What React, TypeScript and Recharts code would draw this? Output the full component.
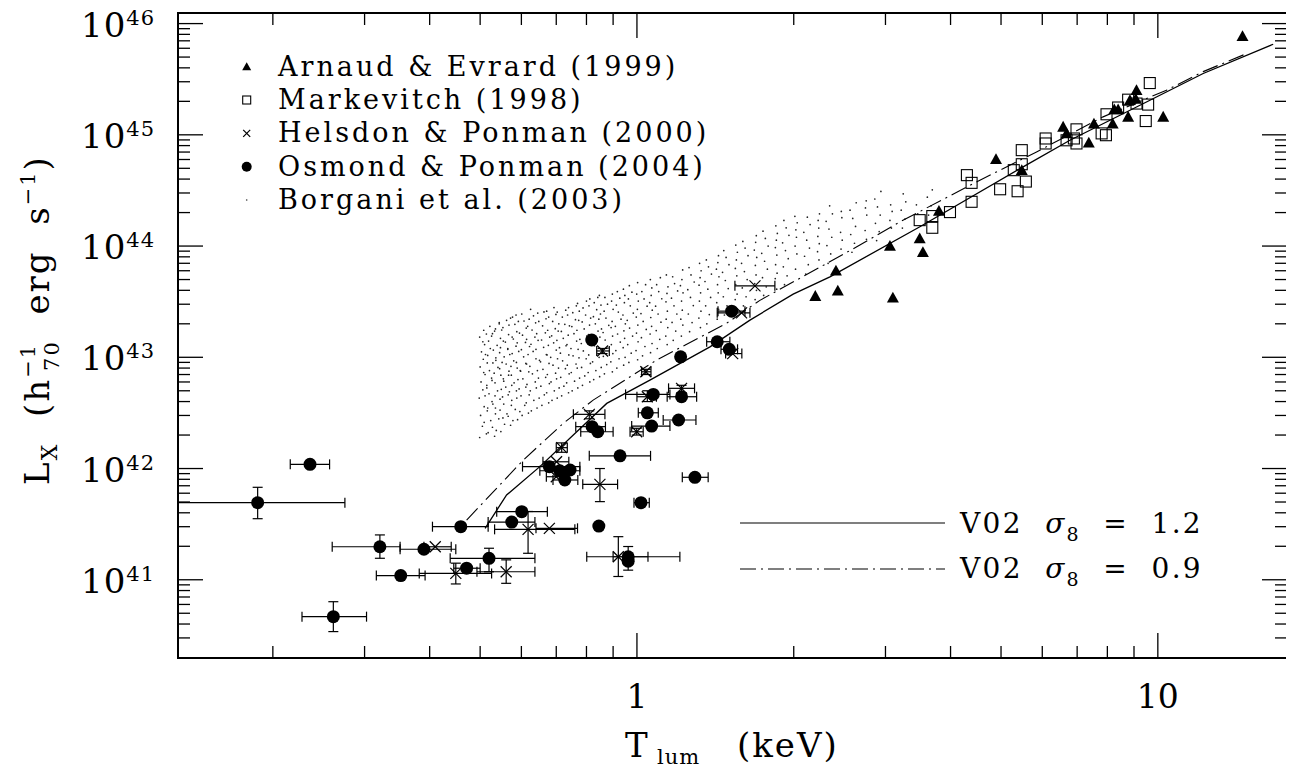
import React from 'react';
import { ScatterChart, Scatter, XAxis, YAxis, ErrorBar } from 'recharts';

// ---------- layout constants (page pixels; the wrapper cancels the body margin) ----------
const W = 1294;
const H = 770;
const PL = 178;
const PR = 1287;
const PT = 13;
const PB = 658;
const FONT = '"DejaVu Serif", "Liberation Serif", serif';

// ---------- axes ----------
const xDomain = [0.1315, 17.7];
const yDomain = [1.98e40, 1.245e46];
const xTicks = [0.2, 0.3, 0.4, 0.5, 0.6, 0.7, 0.8, 0.9, 1, 2, 3, 4, 5, 6, 7, 8, 9, 10];
const xMajorLabels: Record<string, string> = { '1': '1', '10': '10' };
const yTicks = [
  3e40, 4e40, 5e40, 6e40, 7e40, 8e40, 9e40,
  1e41, 2e41, 3e41, 4e41, 5e41, 6e41, 7e41, 8e41, 9e41,
  1e42, 2e42, 3e42, 4e42, 5e42, 6e42, 7e42, 8e42, 9e42,
  1e43, 2e43, 3e43, 4e43, 5e43, 6e43, 7e43, 8e43, 9e43,
  1e44, 2e44, 3e44, 4e44, 5e44, 6e44, 7e44, 8e44, 9e44,
  1e45, 2e45, 3e45, 4e45, 5e45, 6e45, 7e45, 8e45, 9e45,
  1e46,
];

// ---------- Arnaud & Evrard (1999) ----------
const arnaudT = [2.20, 2.43, 2.41, 3.10, 3.06, 3.49, 3.54, 3.80, 4.89, 5.48, 6.58, 6.68, 7.37, 7.54, 8.19, 8.25, 8.39, 8.77, 8.84, 9.10, 9.07, 10.24, 14.54];
const arnaudL = [3.55e43, 3.96e43, 6.0e43, 3.43e43, 1.0e44, 1.17e44, 8.8e43, 2.07e44, 6.04e44, 4.81e44, 1.18e45, 1.03e45, 8.5e44, 1.26e45, 1.26e45, 1.69e45, 1.69e45, 1.45e45, 2.05e45, 2.52e45, 2.10e45, 1.45e45, 7.69e45];

// ---------- Markevitch (1998) ----------
const markT = [3.49, 3.69, 3.69, 3.99, 4.30, 4.39, 4.39, 4.98, 5.38, 5.58, 5.29, 5.48, 5.48, 6.09, 6.09, 6.98, 6.68, 6.90, 6.98, 7.80, 7.95, 7.97, 8.39, 8.77, 9.10, 9.58, 9.65, 9.48];
const markL = [1.71e44, 1.86e44, 1.46e44, 2.02e44, 4.34e44, 3.70e44, 2.50e44, 3.24e44, 3.11e44, 3.80e44, 4.81e44, 5.44e44, 7.28e44, 9.27e44, 8.36e44, 1.12e45, 8.93e44, 9.27e44, 8.36e44, 1.03e45, 9.92e44, 1.53e45, 1.76e45, 2.07e45, 1.91e45, 1.87e45, 2.92e45, 1.33e45];

// ---------- Helsdon & Ponman (2000) ----------
const hpT = [0.410, 0.449, 0.561, 0.618, 0.679, 0.701, 0.700, 0.717, 0.810, 0.849, 0.921, 0.999, 1.047, 1.218, 1.040, 0.859, 1.527, 1.588, 1.685];
const hpL = [1.98e41, 1.14e41, 1.18e41, 2.84e41, 2.90e41, 1.15e42, 8.44e41, 1.54e42, 3.07e42, 7.21e41, 1.61e41, 2.14e42, 4.42e42, 5.26e42, 7.41e42, 1.14e43, 1.08e43, 2.51e43, 4.39e43];
const hpTlo = [0.390, 0.382, 0.493, 0.533, 0.640, 0.660, 0.670, 0.700, 0.755, 0.787, 0.801, 0.970, 1.000, 1.150, 1.021, 0.837, 1.480, 1.426, 1.542];
const hpThi = [0.440, 0.526, 0.637, 0.760, 0.769, 0.740, 0.730, 0.735, 0.868, 0.918, 1.209, 1.028, 1.090, 1.290, 1.064, 0.885, 1.590, 1.648, 1.840];
const hpLlo = [null, 9.17e40, 9.29e40, 1.73e41, null, null, null, 1.40e42, 2.80e42, 5.04e41, 1.07e41, 2.00e42, 4.00e42, 4.80e42, 7.00e42, 1.08e43, null, null, null];
const hpLhi = [null, 1.41e41, 1.51e41, 4.11e41, null, null, null, 1.70e42, 3.30e42, 1.00e42, 2.44e41, 2.30e42, 5.00e42, 5.60e42, 7.80e42, 1.20e43, null, null, null];

// ---------- Osmond & Ponman (2004) ----------
const opT = [0.187, 0.2357, 0.2613, 0.321, 0.390, 0.352, 0.459, 0.601, 0.575, 0.520, 0.471, 0.679, 0.711, 0.744, 0.727, 0.819, 0.820, 0.841, 0.928, 0.845, 1.018, 0.962, 0.962, 1.075, 1.218, 1.047, 1.067, 1.202, 1.292, 1.213, 1.426, 1.504, 1.520];
const opL = [4.93e41, 1.09e42, 4.66e40, 1.98e41, 1.88e41, 1.09e41, 3.00e41, 4.09e41, 3.30e41, 1.56e41, 1.27e41, 1.04e42, 9.55e41, 9.70e41, 7.89e41, 1.43e43, 2.38e42, 2.14e42, 1.30e42, 3.04e41, 4.93e41, 1.61e41, 1.47e41, 4.64e42, 4.42e42, 3.17e42, 2.41e42, 2.73e42, 8.34e41, 1.01e43, 1.38e43, 1.18e43, 2.60e43];
const opTlo = [0.1315, 0.216, 0.2275, 0.260, 0.351, 0.316, 0.405, 0.538, 0.518, 0.438, 0.445, 0.603, 0.651, null, 0.690, null, 0.763, 0.780, 0.810, null, 0.987, 0.900, null, 0.951, 1.143, 1.006, 0.977, 1.123, 1.222, null, 1.361, 1.450, 1.431];
const opThi = [0.275, 0.257, 0.3026, 0.351, 0.449, 0.392, 0.518, 0.673, 0.637, 0.637, 0.500, 0.777, 0.777, null, 0.770, null, 0.870, 0.900, 1.062, null, 1.056, 1.050, null, 1.157, 1.302, 1.099, 1.157, 1.298, 1.370, null, 1.508, 1.560, 1.612];
const opLlo = [3.54e41, null, 3.42e40, 1.56e41, null, null, null, null, null, 1.18e41, null, null, null, null, null, null, null, null, null, null, null, 1.22e41, null, null, null, null, null, null, null, null, null, null, null];
const opLhi = [6.78e41, null, 6.35e40, 2.53e41, null, null, null, null, null, 1.92e41, null, null, null, null, null, null, null, null, null, null, null, 1.99e41, null, null, null, null, null, null, null, null, null, null, null];

// ---------- Borgani et al. (2003) simulated clusters ----------
const borgani: [number, number][] = [
  [0.499,1.9e42],[0.505,2.4e42],[0.501,3.0e42],[0.509,3.6e42],[0.498,4.3e42],[0.506,5.1e42],[0.502,6.0e42],[0.511,7.0e42],[0.500,8.2e42],[0.507,9.6e42],[0.503,1.12e43],[0.510,1.3e43],[0.499,1.52e43],[0.508,1.75e43],
  [0.518,2.1e42],[0.524,2.7e42],[0.516,3.3e42],[0.527,4.0e42],[0.520,4.7e42],[0.515,5.6e42],[0.526,6.5e42],[0.521,7.6e42],[0.529,8.9e42],[0.517,1.04e43],[0.523,1.2e43],[0.519,1.4e43],[0.528,1.63e43],[0.522,1.9e43],
  [0.537,2.2e42],[0.543,2.8e42],[0.535,3.5e42],[0.546,4.2e42],[0.540,5.0e42],[0.534,5.9e42],[0.548,6.9e42],[0.541,8.1e42],[0.536,9.4e42],[0.545,1.1e43],[0.539,1.28e43],[0.547,1.48e43],[0.533,1.72e43],[0.544,2.0e43],
  [0.557,2.5e42],[0.563,3.1e42],[0.555,3.8e42],[0.566,4.6e42],[0.560,5.4e42],[0.554,6.4e42],[0.568,7.5e42],[0.561,8.7e42],[0.556,1.01e43],[0.565,1.18e43],[0.559,1.37e43],[0.567,1.6e43],[0.553,1.85e43],[0.562,2.15e43],
  [0.578,2.7e42],[0.584,3.4e42],[0.575,4.1e42],[0.587,5.0e42],[0.581,5.9e42],[0.574,6.9e42],[0.589,8.0e42],[0.580,9.3e42],[0.576,1.08e43],[0.586,1.26e43],[0.579,1.46e43],[0.588,1.7e43],[0.583,1.98e43],[0.577,2.3e43],
  [0.602,3.0e42],[0.609,3.7e42],[0.599,4.5e42],[0.612,5.4e42],[0.604,6.4e42],[0.598,7.5e42],[0.614,8.7e42],[0.606,1.01e43],[0.600,1.17e43],[0.611,1.36e43],[0.603,1.58e43],[0.613,1.83e43],[0.607,2.12e43],[0.601,2.45e43],
  [0.627,3.3e42],[0.634,4.1e42],[0.624,5.0e42],[0.638,6.0e42],[0.630,7.1e42],[0.623,8.3e42],[0.640,9.7e42],[0.632,1.13e43],[0.626,1.31e43],[0.637,1.52e43],[0.629,1.76e43],[0.639,2.04e43],[0.633,2.36e43],[0.625,2.7e43],
  [0.657,3.7e42],[0.664,4.6e42],[0.654,5.5e42],[0.668,6.6e42],[0.660,7.8e42],[0.653,9.1e42],[0.670,1.06e43],[0.662,1.23e43],[0.656,1.43e43],[0.667,1.66e43],[0.659,1.92e43],[0.669,2.22e43],[0.663,2.56e43],
  [0.687,4.1e42],[0.694,5.0e42],[0.684,6.0e42],[0.698,7.2e42],[0.690,8.5e42],[0.683,1.0e43],[0.700,1.16e43],[0.692,1.35e43],[0.686,1.56e43],[0.697,1.81e43],[0.689,2.1e43],[0.699,2.43e43],[0.693,2.8e43],
  [0.717,4.5e42],[0.724,5.5e42],[0.714,6.6e42],[0.729,7.9e42],[0.720,9.3e42],[0.713,1.09e43],[0.731,1.27e43],[0.722,1.48e43],[0.716,1.71e43],[0.727,1.98e43],[0.719,2.3e43],[0.730,2.65e43],
  [0.751,5.0e42],[0.759,6.1e42],[0.748,7.3e42],[0.764,8.7e42],[0.754,1.03e43],[0.747,1.2e43],[0.766,1.4e43],[0.757,1.63e43],[0.750,1.89e43],[0.762,2.18e43],[0.753,2.52e43],[0.765,2.9e43],
  [0.786,5.6e42],[0.794,6.8e42],[0.783,8.1e42],[0.799,9.7e42],[0.789,1.14e43],[0.782,1.33e43],[0.801,1.55e43],[0.792,1.8e43],[0.785,2.08e43],[0.797,2.4e43],[0.788,2.78e43],[0.800,3.2e43],
  [0.826,6.3e42],[0.834,7.6e42],[0.822,9.1e42],[0.839,1.08e43],[0.829,1.27e43],[0.821,1.48e43],[0.842,1.72e43],[0.832,2.0e43],[0.825,2.32e43],[0.837,2.68e43],[0.828,3.1e43],[0.841,3.45e43],
  [0.866,7.1e42],[0.875,8.6e42],[0.862,1.02e43],[0.880,1.21e43],[0.869,1.43e43],[0.861,1.67e43],[0.883,1.94e43],[0.872,2.25e43],[0.865,2.6e43],[0.878,3.0e43],[0.868,3.45e43],
  [0.915,8.0e42],[0.924,9.7e42],[0.911,1.15e43],[0.929,1.37e43],[0.918,1.62e43],[0.909,1.9e43],[0.932,2.2e43],[0.921,2.55e43],[0.913,2.95e43],[0.927,3.4e43],[0.917,3.9e43],
  [0.965,9.0e42],[0.975,1.09e43],[0.960,1.3e43],[0.981,1.55e43],[0.968,1.83e43],[0.958,2.15e43],[0.984,2.5e43],[0.971,2.9e43],[0.963,3.35e43],[0.978,3.85e43],[0.967,4.4e43],
  [1.025,1.03e43],[1.036,1.25e43],[1.020,1.5e43],[1.042,1.78e43],[1.028,2.1e43],[1.018,2.47e43],[1.046,2.88e43],[1.032,3.35e43],[1.022,3.9e43],[1.039,4.5e43],
  [1.094,1.2e43],[1.106,1.45e43],[1.089,1.74e43],[1.112,2.07e43],[1.098,2.45e43],[1.086,2.88e43],[1.116,3.36e43],[1.101,3.9e43],[1.091,4.5e43],[1.109,5.2e43],
  [1.174,1.42e43],[1.187,1.72e43],[1.168,2.06e43],[1.193,2.45e43],[1.178,2.9e43],[1.165,3.4e43],[1.197,3.95e43],[1.181,4.6e43],[1.171,5.3e43],
  [1.262,1.7e43],[1.276,2.05e43],[1.255,2.45e43],[1.283,2.92e43],[1.267,3.45e43],[1.252,4.05e43],[1.288,4.75e43],[1.270,5.5e43],[1.259,6.4e43],
  [1.362,2.0e43],[1.377,2.42e43],[1.355,2.9e43],[1.385,3.45e43],[1.368,4.1e43],[1.351,4.8e43],[1.390,5.6e43],[1.372,6.5e43],[1.359,7.5e43],
  [1.472,2.4e43],[1.489,2.9e43],[1.465,3.5e43],[1.497,4.15e43],[1.478,4.9e43],[1.460,5.8e43],[1.502,6.8e43],[1.483,7.9e43],[1.468,9.1e43],
  [1.601,2.9e43],[1.620,3.5e43],[1.593,4.2e43],[1.628,5.0e43],[1.608,5.9e43],[1.588,7.0e43],[1.634,8.2e43],[1.613,9.6e43],[1.597,1.1e44],
  [1.751,3.6e43],[1.771,4.3e43],[1.742,5.2e43],[1.780,6.2e43],[1.758,7.3e43],[1.736,8.6e43],[1.786,1.0e44],[1.764,1.17e44],[1.746,1.36e44],
  [1.920,4.5e43],[1.942,5.4e43],[1.910,6.5e43],[1.952,7.7e43],[1.928,9.1e43],[1.904,1.07e44],[1.958,1.25e44],[1.934,1.46e44],[1.915,1.7e44],
  [2.109,5.6e43],[2.133,6.8e43],[2.098,8.1e43],[2.144,9.6e43],[2.118,1.13e44],[2.091,1.33e44],[2.150,1.56e44],[2.124,1.82e44],
  [2.328,7.0e43],[2.355,8.5e43],[2.316,1.01e44],[2.366,1.2e44],[2.337,1.42e44],[2.308,1.67e44],[2.373,1.95e44],[2.344,2.3e44],
  [2.587,8.8e43],[2.616,1.06e44],[2.573,1.27e44],[2.628,1.5e44],[2.596,1.77e44],[2.565,2.1e44],[2.636,2.45e44],
  [2.885,1.12e44],[2.918,1.35e44],[2.870,1.6e44],[2.931,1.9e44],[2.896,2.25e44],[2.862,2.65e44],[2.940,3.1e44],
  [3.233,1.45e44],[3.270,1.75e44],[3.216,2.1e44],[3.282,2.5e44],[3.245,2.95e44],
  [3.63,1.9e44],[3.67,2.3e44],[3.61,2.75e44],[3.69,3.2e44],
  // interleaved, irregular second pass over the cloud
  [0.514,2.05e42],[0.509,2.6e42],[0.517,3.5e42],[0.511,4.5e42],[0.515,5.3e42],[0.508,7.3e42],[0.516,8.9e42],[0.512,1.06e43],[0.506,1.38e43],[0.514,1.62e43],
  [0.533,1.95e42],[0.528,2.35e42],[0.535,3.1e42],[0.529,3.8e42],[0.534,4.5e42],[0.527,6.2e42],[0.532,7.2e42],[0.536,9.9e42],[0.530,1.16e43],[0.526,1.55e43],[0.535,1.8e43],
  [0.548,2.15e42],[0.553,2.85e42],[0.546,3.35e42],[0.552,4.4e42],[0.549,5.15e42],[0.555,6.1e42],[0.545,7.9e42],[0.551,9.0e42],[0.547,1.22e43],[0.554,1.4e43],[0.550,1.76e43],[0.544,2.05e43],
  [0.572,2.45e42],[0.566,2.95e42],[0.574,3.7e42],[0.569,4.9e42],[0.575,5.6e42],[0.567,6.9e42],[0.573,8.3e42],[0.570,1.06e43],[0.565,1.2e43],[0.576,1.52e43],[0.568,1.95e43],[0.572,2.25e43],
  [0.590,2.75e42],[0.596,3.25e42],[0.588,4.3e42],[0.594,5.2e42],[0.591,6.3e42],[0.597,7.6e42],[0.587,9.0e42],[0.593,1.13e43],[0.589,1.35e43],[0.595,1.65e43],[0.592,2.1e43],[0.586,2.4e43],
  [0.619,3.15e42],[0.613,3.9e42],[0.621,4.6e42],[0.615,5.7e42],[0.620,7.4e42],[0.612,8.8e42],[0.618,1.06e43],[0.622,1.25e43],[0.614,1.45e43],[0.617,1.9e43],[0.621,2.2e43],
  [0.643,3.5e42],[0.649,4.3e42],[0.641,5.3e42],[0.647,6.5e42],[0.644,7.6e42],[0.650,9.4e42],[0.640,1.18e43],[0.646,1.42e43],[0.642,1.63e43],[0.648,2.1e43],[0.645,2.5e43],
  [0.677,3.9e42],[0.671,4.8e42],[0.679,5.8e42],[0.673,7.0e42],[0.678,8.8e42],[0.672,1.05e43],[0.676,1.28e43],[0.680,1.52e43],[0.674,1.75e43],[0.677,2.3e43],[0.671,2.6e43],
  [0.703,4.3e42],[0.709,5.3e42],[0.701,6.4e42],[0.707,8.0e42],[0.704,9.7e42],[0.710,1.22e43],[0.702,1.42e43],[0.706,1.72e43],[0.708,2.0e43],[0.703,2.55e43],
  [0.739,4.8e42],[0.733,5.9e42],[0.741,7.1e42],[0.735,8.5e42],[0.740,1.05e43],[0.734,1.3e43],[0.738,1.58e43],[0.742,1.92e43],[0.736,2.4e43],[0.739,2.8e43],
  [0.770,5.3e42],[0.776,6.5e42],[0.768,8.0e42],[0.774,9.9e42],[0.771,1.18e43],[0.777,1.45e43],[0.767,1.75e43],[0.773,2.15e43],[0.775,2.6e43],[0.769,3.05e43],
  [0.812,6.0e42],[0.806,7.3e42],[0.814,8.8e42],[0.808,1.05e43],[0.813,1.33e43],[0.807,1.6e43],[0.811,1.95e43],[0.815,2.25e43],[0.809,2.9e43],[0.812,3.35e43],
  [0.848,6.7e42],[0.854,8.1e42],[0.846,1.0e43],[0.852,1.2e43],[0.849,1.52e43],[0.855,1.8e43],[0.845,2.2e43],[0.851,2.45e43],[0.853,2.95e43],[0.847,3.6e43],
  [0.897,7.4e42],[0.891,9.1e42],[0.899,1.08e43],[0.893,1.3e43],[0.898,1.55e43],[0.892,1.85e43],[0.896,2.1e43],[0.900,2.7e43],[0.894,3.2e43],[0.897,3.7e43],
  [0.943,8.5e42],[0.949,1.0e43],[0.941,1.22e43],[0.947,1.48e43],[0.944,1.73e43],[0.950,2.0e43],[0.940,2.4e43],[0.946,3.1e43],[0.948,3.6e43],[0.942,4.1e43],
  [1.003,9.5e42],[0.996,1.15e43],[1.005,1.38e43],[0.998,1.65e43],[1.004,1.95e43],[0.997,2.3e43],[1.002,2.7e43],[1.006,3.2e43],[0.999,3.7e43],[1.003,4.7e43],
  [1.062,1.1e43],[1.069,1.33e43],[1.060,1.62e43],[1.067,1.9e43],[1.063,2.28e43],[1.070,2.65e43],[1.058,3.1e43],[1.065,3.6e43],[1.068,4.2e43],[1.061,5.0e43],
  [1.143,1.3e43],[1.136,1.55e43],[1.146,1.85e43],[1.138,2.2e43],[1.144,2.6e43],[1.137,3.15e43],[1.142,3.75e43],[1.147,4.3e43],[1.139,5.5e43],
  [1.217,1.55e43],[1.225,1.95e43],[1.214,2.2e43],[1.222,2.65e43],[1.218,3.2e43],[1.226,3.8e43],[1.212,4.4e43],[1.220,5.0e43],[1.224,6.1e43],
  [1.324,1.85e43],[1.315,2.25e43],[1.327,2.6e43],[1.318,3.2e43],[1.325,3.8e43],[1.316,4.45e43],[1.322,5.2e43],[1.328,6.0e43],[1.319,7.0e43],
  [1.426,2.2e43],[1.435,2.7e43],[1.423,3.1e43],[1.432,3.8e43],[1.428,4.5e43],[1.437,5.3e43],[1.421,6.2e43],[1.430,7.1e43],[1.434,8.2e43],
  [1.554,2.65e43],[1.544,3.3e43],[1.557,3.7e43],[1.547,4.5e43],[1.555,5.4e43],[1.545,6.3e43],[1.552,7.5e43],[1.559,8.8e43],[1.548,1.02e44],
  [1.686,3.3e43],[1.696,4.0e43],[1.683,4.6e43],[1.693,5.5e43],[1.688,6.7e43],[1.698,7.9e43],[1.680,9.2e43],[1.690,1.08e44],[1.695,1.24e44],
  [1.855,4.1e43],[1.843,5.1e43],[1.858,5.7e43],[1.846,6.8e43],[1.856,8.3e43],[1.844,9.7e43],[1.852,1.13e44],[1.860,1.3e44],[1.848,1.52e44],
  [2.016,6.2e43],[2.028,8.5e43],[2.012,1.0e44],[2.024,1.2e44],[2.019,1.4e44],[2.031,1.62e44],[2.010,1.85e44],
  [2.236,7.5e43],[2.222,8.9e43],[2.239,1.05e44],[2.225,1.22e44],[2.234,1.45e44],[2.228,1.7e44],[2.241,1.95e44],
  [2.465,9.4e43],[2.478,1.13e44],[2.460,1.33e44],[2.474,1.8e44],[2.468,2.05e44],
  [2.758,1.15e44],[2.742,1.38e44],[2.762,1.9e44],[2.746,2.2e44],[2.755,2.55e44],
  [3.08,1.45e44],[3.06,1.7e44],[3.09,2.05e44],[3.07,2.35e44],
  [3.46,1.95e44],[3.44,2.35e44],
];

// ---------- V02 model curves ----------
const v02s12T = [0.511, 0.562, 0.651, 0.875, 1.059, 1.381, 1.648, 1.995, 2.347, 3.493, 5.513, 6.78, 9.10, 12.22, 16.65];
const v02s12L = [2.9e41, 5.78e41, 1.04e42, 3.85e42, 6.24e42, 1.24e43, 2.16e43, 3.70e43, 5.29e43, 1.49e44, 5.15e44, 8.94e44, 1.78e45, 3.56e45, 6.52e45];
const v02s09T = [0.471, 0.605, 0.722, 0.824, 1.091, 1.486, 1.722, 2.679, 3.198, 4.554, 5.85, 7.85, 10.39, 12.22, 14.8];
const v02s09L = [3.44e41, 1.19e42, 2.55e42, 4.12e42, 9.44e42, 2.02e43, 3.25e43, 1.02e44, 1.65e44, 3.91e44, 7.02e44, 1.45e45, 2.52e45, 3.7e45, 5.37e45];

// ---------- tables for the library ----------
const pairs = (ts: number[], ls: number[]) => ts.map((t, i) => ({ T: t, L: ls[i] }));
const errTable = (ts: number[], ls: number[], tlo: any[], thi: any[], llo: any[], lhi: any[]) =>
  ts.map((t, i) => ({
    T: t,
    L: ls[i],
    ex: tlo[i] == null ? undefined : [t - tlo[i], thi[i] - t],
    ey: llo[i] == null ? undefined : [ls[i] - llo[i], lhi[i] - ls[i]],
  }));

const arnaudData = pairs(arnaudT, arnaudL);
const markData = pairs(markT, markL);
const hpData = errTable(hpT, hpL, hpTlo, hpThi, hpLlo, hpLhi);
const opData = errTable(opT, opL, opTlo, opThi, opLlo, opLhi);
const borganiData = borgani.map(([t, l]) => ({ T: t, L: l }));
const s12Data = pairs(v02s12T, v02s12L);
const s09Data = pairs(v02s09T, v02s09L);

// ---------- marker shapes ----------
const Tri = ({ cx, cy, s = 12 }: any) => (
  <polygon points={`${cx - s / 2},${cy + s * 0.4} ${cx + s / 2},${cy + s * 0.4} ${cx},${cy - s * 0.5}`} fill="#000" />
);
const Sq = ({ cx, cy, s = 11 }: any) => (
  <rect x={cx - s / 2} y={cy - s / 2} width={s} height={s} fill="none" stroke="#000" strokeWidth={1.1} />
);
const Cross = ({ cx, cy, s = 5.5 }: any) => (
  <g stroke="#000" strokeWidth={1.2}>
    <line x1={cx - s} y1={cy - s} x2={cx + s} y2={cy + s} />
    <line x1={cx - s} y1={cy + s} x2={cx + s} y2={cy - s} />
  </g>
);
const Dot = ({ cx, cy, r = 6.5 }: any) => <circle cx={cx} cy={cy} r={r} fill="#000" />;
const Speck = ({ cx, cy }: any) => <circle cx={cx} cy={cy} r={0.85} fill="#222" />;
const NoShape = () => <g />;

// ---------- ticks ----------
const XTick = (props: any) => {
  const { x, payload } = props;
  const v = payload.value;
  const label = xMajorLabels[String(v)];
  const len = label ? 25 : 12;
  return (
    <g>
      <line x1={x} x2={x} y1={PB} y2={PB - len} stroke="#000" strokeWidth={1.3} />
      <line x1={x} x2={x} y1={PT} y2={PT + len} stroke="#000" strokeWidth={1.3} />
      {label ? (
        <text x={x} y={PB + 50} textAnchor="middle" fontFamily={FONT} fontSize={33} fill="#000">
          {label}
        </text>
      ) : null}
    </g>
  );
};

const YTick = (props: any) => {
  const { y, payload } = props;
  const lg = Math.log10(payload.value);
  const e = Math.round(lg);
  const major = Math.abs(lg - e) < 1e-6;
  const len = major ? 25 : 12;
  return (
    <g>
      <line x1={PL} x2={PL + len} y1={y} y2={y} stroke="#000" strokeWidth={1.3} />
      <line x1={PR} x2={PR - len} y1={y} y2={y} stroke="#000" strokeWidth={1.3} />
      {major ? (
        <text x={PL - 23} y={y + 13} textAnchor="end" fontFamily={FONT} fontSize={34} letterSpacing={1} fill="#000">
          10
          <tspan dy={-12} fontSize={21}>{String(e)}</tspan>
        </text>
      ) : null}
    </g>
  );
};

// ---------- legend + titles overlay ----------
const legendRows = [
  { label: 'Arnaud & Evrard (1999)', kind: 'tri' },
  { label: 'Markevitch (1998)', kind: 'sq' },
  { label: 'Helsdon & Ponman (2000)', kind: 'cross' },
  { label: 'Osmond & Ponman (2004)', kind: 'dot' },
  { label: 'Borgani et al. (2003)', kind: 'speck' },
];

const Overlay = () => {
  const rowY = [66.7, 100, 133.3, 166.7, 200];
  const symX = 246.7;
  return (
    <svg width={W} height={H} style={{ position: 'absolute', left: 0, top: 0, pointerEvents: 'none' }}>
      <rect x={PL} y={PT} width={PR - PL} height={PB - PT} fill="none" stroke="#000" strokeWidth={2} />
      {legendRows.map((r, i) => {
        const cy = rowY[i];
        let sym = null;
        if (r.kind === 'tri') sym = <Tri cx={symX} cy={cy} s={9} />;
        if (r.kind === 'sq') sym = <Sq cx={symX} cy={cy} s={8} />;
        if (r.kind === 'cross') sym = <Cross cx={symX} cy={cy} s={3.5} />;
        if (r.kind === 'dot') sym = <Dot cx={symX} cy={cy} r={5} />;
        if (r.kind === 'speck') sym = <circle cx={symX} cy={cy} r={0.8} fill="#333" />;
        return (
          <g key={i}>
            {sym}
            <text x={278} y={cy + 9} fontFamily={FONT} fontSize={27} letterSpacing={3} fill="#000" style={{ whiteSpace: 'pre' }}>
              {r.label}
            </text>
          </g>
        );
      })}
      {/* model legend */}
      <line x1={740} x2={945} y1={523} y2={523} stroke="#000" strokeWidth={1.2} />
      <line x1={740} x2={945} y1={569} y2={569} stroke="#000" strokeWidth={1.1} strokeDasharray="16 5 2 5" />
      <text x={960} y={533} fontFamily={FONT} fontSize={28} letterSpacing={2.3} fill="#000" style={{ whiteSpace: 'pre' }}>
        {'V02  '}
        <tspan fontStyle="italic">σ</tspan>
        <tspan fontSize={19} dy={8}>8</tspan>
        <tspan dy={-8}>{'  =  1.2'}</tspan>
      </text>
      <text x={960} y={578} fontFamily={FONT} fontSize={28} letterSpacing={2.3} fill="#000" style={{ whiteSpace: 'pre' }}>
        {'V02  '}
        <tspan fontStyle="italic">σ</tspan>
        <tspan fontSize={19} dy={8}>8</tspan>
        <tspan dy={-8}>{'  =  0.9'}</tspan>
      </text>
      {/* x title */}
      <text x={625} y={757} fontFamily={FONT} fontSize={34} fill="#000">T</text>
      <text x={657} y={764} fontFamily={FONT} fontSize={21} letterSpacing={1} fill="#000">lum</text>
      <text x={737} y={757} fontFamily={FONT} fontSize={34} letterSpacing={2} fill="#000">(keV)</text>
      {/* y title */}
      <text
        transform="translate(49, 320) rotate(-90)"
        textAnchor="middle"
        fontFamily={FONT}
        fontSize={34}
        letterSpacing={2}
        fill="#000"
        style={{ whiteSpace: 'pre' }}
      >
        L
        <tspan fontSize={22} dy={8}>X</tspan>
        <tspan dy={-8}>{'  (h'}</tspan>
        <tspan fontSize={21} dy={-14}>−1</tspan>
        <tspan fontSize={21} dx={-28} dy={24}>70</tspan>
        <tspan dy={-10}>{'  erg  s'}</tspan>
        <tspan fontSize={21} dy={-14}>−1</tspan>
        <tspan dy={14}>)</tspan>
      </text>
    </svg>
  );
};

export default function App() {
  return (
    <div style={{ position: 'relative', width: W, height: H, margin: '-8px 0 0 -8px', background: '#fff' }}>
      <ScatterChart width={W} height={H} margin={{ top: PT, right: W - PR, bottom: H - PB - 2, left: PL - 2 }}>
        <XAxis
          type="number"
          dataKey="T"
          scale="log"
          domain={xDomain}
          allowDataOverflow
          ticks={xTicks}
          interval={0}
          height={2}
          tickSize={0}
          tickMargin={0}
          axisLine={false}
          tickLine={false}
          tick={<XTick />}
        />
        <YAxis
          type="number"
          dataKey="L"
          scale="log"
          domain={yDomain}
          allowDataOverflow
          ticks={yTicks}
          interval={0}
          width={2}
          tickSize={0}
          tickMargin={0}
          axisLine={false}
          tickLine={false}
          tick={<YTick />}
        />
        <Scatter data={borganiData} shape={Speck} isAnimationActive={false} />
        <Scatter
          data={s12Data}
          shape={NoShape}
          line={{ stroke: '#000', strokeWidth: 1.3 }}
          lineType="joint"
          isAnimationActive={false}
        />
        <Scatter
          data={s09Data}
          shape={NoShape}
          line={{ stroke: '#000', strokeWidth: 1.1, strokeDasharray: '16 5 2 5' }}
          lineType="joint"
          isAnimationActive={false}
        />
        <Scatter data={hpData} shape={Cross} isAnimationActive={false}>
          <ErrorBar dataKey="ex" direction="x" width={5} stroke="#000" strokeWidth={1.2} />
          <ErrorBar dataKey="ey" direction="y" width={5} stroke="#000" strokeWidth={1.2} />
        </Scatter>
        <Scatter data={opData} shape={Dot} isAnimationActive={false}>
          <ErrorBar dataKey="ex" direction="x" width={5} stroke="#000" strokeWidth={1.2} />
          <ErrorBar dataKey="ey" direction="y" width={5} stroke="#000" strokeWidth={1.2} />
        </Scatter>
        <Scatter data={markData} shape={Sq} isAnimationActive={false} />
        <Scatter data={arnaudData} shape={Tri} isAnimationActive={false} />
      </ScatterChart>
      <Overlay />
    </div>
  );
}
